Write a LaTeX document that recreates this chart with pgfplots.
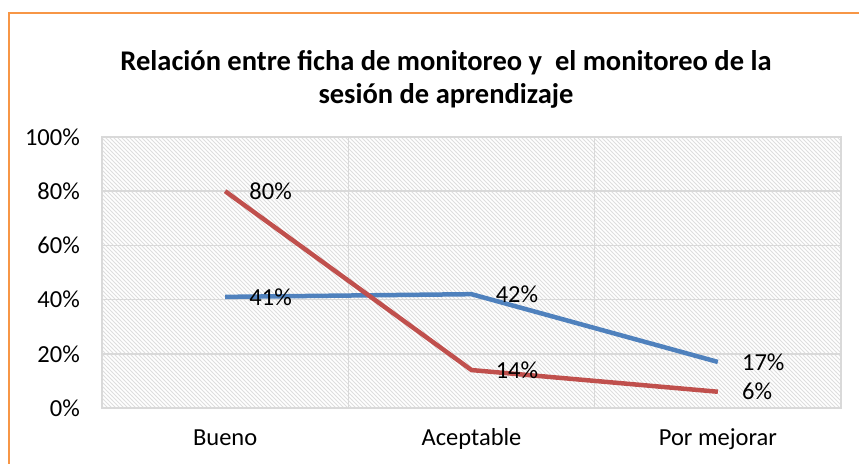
\documentclass[border=0pt]{standalone}
\usepackage{fontspec}
\setmainfont{Carlito}
\usepackage{pgfplots}
\pgfplotsset{compat=1.18}
\usetikzlibrary{patterns.meta}
\definecolor{serBlue}{RGB}{79,129,189}
\definecolor{serRed}{RGB}{192,80,77}
\definecolor{bord}{RGB}{247,150,70}
\definecolor{gridc}{RGB}{217,217,217}
\definecolor{hatchc}{RGB}{222,222,222}
\tikzdeclarepattern{
  name=hatch,
  type=uncolored,
  bounding box={(-0.1bp,-0.1bp) and (4.1bp,4.1bp)},
  tile size={(4bp,4bp)},
  code={\draw[line width=0.8bp] (-0.5bp,4.5bp) -- (4.5bp,-0.5bp);}
}
\newcommand{\lab}{\fontsize{24.5bp}{28bp}\selectfont}
\begin{document}
\begin{tikzpicture}
\useasboundingbox (0,0) rectangle (859bp,464bp);
\fill[white] (0,0) rectangle (859bp,464bp);
\draw[bord, line width=2.5bp] (9bp,0) -- (9bp,451bp) -- (860bp,451bp);
\node[font=\fontsize{28.5bp}{33bp}\selectfont\bfseries] at (446bp,401bp) {Relación entre ficha de monitoreo y\ \ el monitoreo de la};
\node[font=\fontsize{28.5bp}{33bp}\selectfont\bfseries] at (446bp,368bp) {sesión de aprendizaje};
\begin{axis}[
  at={(102bp,56bp)}, anchor=south west,
  scale only axis, width=739bp, height=271bp,
  xmin=-0.5, xmax=2.5, ymin=0, ymax=100,
  xtick={0,1,2}, xticklabels={Bueno,Aceptable,Por mejorar},
  minor xtick={-0.5,0.5,1.5,2.5},
  ytick={0,20,40,60,80,100},
  yticklabels={0\%,20\%,40\%,60\%,80\%,100\%},
  /pgf/number format/assume math mode=true,
  major tick length=0, minor tick length=0,
  ymajorgrids, xminorgrids,
  grid style={gridc, line width=1.5bp},
  minor grid style={gridc, line width=1.5bp},
  axis line style={gridc, line width=1.5bp},
  axis background/.style={pattern={hatch}, pattern color=hatchc},
  yticklabel style={font=\lab, anchor=east, inner sep=0pt, xshift=-22bp},
  xticklabel style={font=\lab, anchor=base, inner sep=0pt, yshift=-37bp},
  clip=false,
  nodes near coords,
  every node near coord/.append style={font=\lab, black, anchor=west, inner sep=0pt, xshift=22bp},
  point meta=explicit symbolic,
]
\addplot[serBlue, line width=4.5bp, mark=none] coordinates {(0,41) [41\%] (1,42) [42\%] (2,17) [17\%]};
\addplot[serRed, line width=4.5bp, mark=none] coordinates {(0,80) [80\%] (1,14) [14\%] (2,6) [6\%]};
\end{axis}
\end{tikzpicture}
\end{document}
